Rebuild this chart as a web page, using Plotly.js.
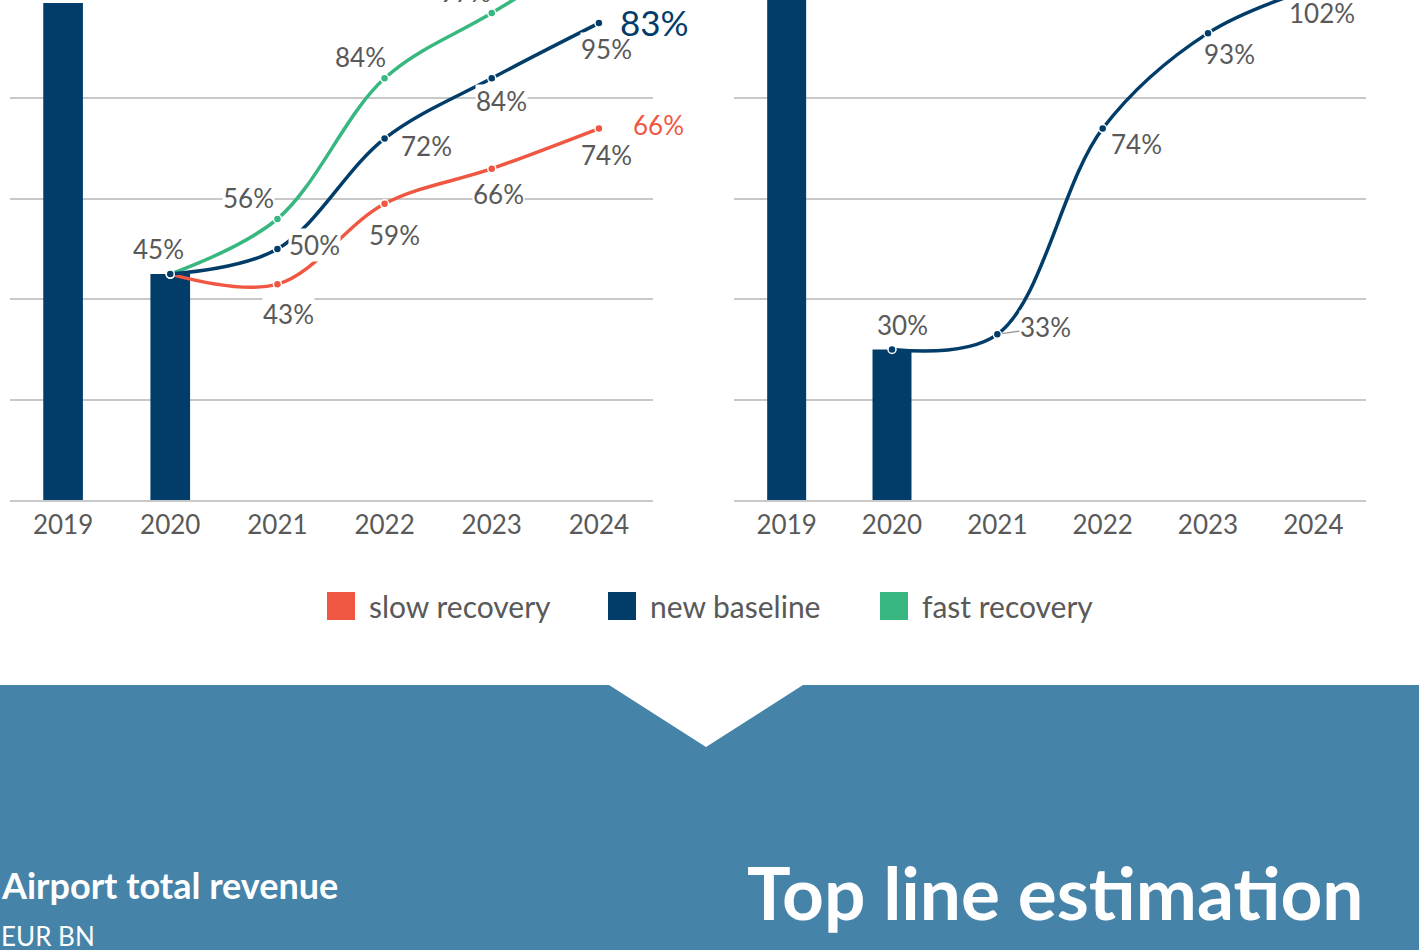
<!DOCTYPE html>
<html>
<head>
<meta charset="utf-8">
<script src="https://cdn.plot.ly/plotly-3.0.1.min.js"></script>
<style>
  html, body { margin: 0; padding: 0; width: 1419px; height: 950px; overflow: hidden; background: #ffffff; }
  #chart { position: absolute; left: 0; top: -100px; width: 1419px; height: 1050px; }
</style>
</head>
<body>
<div id="chart"></div>
<script>
// ---------------- DATA ----------------
const years = ['2019', '2020', '2021', '2022', '2023', '2024'];
const barYears = ['2019', '2020'];
const lineYears = ['2020', '2021', '2022', '2023', '2024'];

// left panel (% of 2019)
const leftBars = [99, 45];
const slowRecovery = [45, 43, 59, 66, 74];
const newBaseline = [45, 50, 72, 84, 95];
const fastRecovery = [45, 56, 84, 97, 110];
const slowEndLabel = '66%';
const baselineEndLabel = '83%';

// right panel (% of 2019)
const rightBars = [100, 30];
const rightLine = [30, 33, 74, 93, 102];

// legend / text
const seriesNames = ['slow recovery', 'new baseline', 'fast recovery'];
const sectionTitle = 'Airport total revenue';
const sectionUnit = 'EUR BN';
const bigTitle = 'Top line estimation';

// ---------------- STYLE ----------------
const RED = '#EF5742';
const NAVY = '#023D69';
const GREEN = '#38B880';
const GRID = '#C8C8C8';
const LABEL = '#595959';
const BANNER = '#4683A8';
const FONT = 'Lato, "Source Sans Pro", "Open Sans", sans-serif';

const H = 1050, W = 1419, SHIFT = 100;
const px = x => x / W;
const py = y => (H - (y + SHIFT)) / H;
const cat = y => years.indexOf(y); // category position on the x axes

// label offsets (pixels, dx right, dy down) for points 2021..2024
const slowOff = [[11, 30], [10, 31], [7, 25], [8, 26]];
const baseOff = [[37, -4], [42, 7], [10, 23], [8, 26]];
const fastOff = [[-29, -21], [-24, -21], [-26, -21], [-26, -21]];
const rightOff = [[10, -24], [48, -7], [34, 15], [21, 21], [9, 25]];
const leftStartOff = [-12, -25];

function lineTrace(xa, ya, y, color) {
  return {
    type: 'scatter', mode: 'lines+markers', x: lineYears, y: y,
    xaxis: xa, yaxis: ya,
    line: { color: color, width: 3.5, shape: 'spline', smoothing: 1 },
    marker: { color: color, size: 8, line: { color: '#ffffff', width: 1.5 } },
    cliponaxis: true, hoverinfo: 'skip'
  };
}
function barTrace(xa, ya, y) {
  return {
    type: 'bar', x: barYears, y: y, xaxis: xa, yaxis: ya,
    marker: { color: NAVY }, width: 0.37, hoverinfo: 'skip'
  };
}

const traces = [
  barTrace('x', 'y', leftBars),
  lineTrace('x', 'y', slowRecovery, RED),
  lineTrace('x', 'y', fastRecovery, GREEN),
  lineTrace('x', 'y', newBaseline, NAVY),
  barTrace('x2', 'y2', rightBars),
  lineTrace('x2', 'y2', rightLine, NAVY)
];

const annotations = [];
function lbl(xr, yr, year, y, text, dx, dy, extra) {
  annotations.push(Object.assign({
    xref: xr, yref: yr, x: cat(year), y: y, text: text, showarrow: false,
    xshift: dx, yshift: -dy, xanchor: 'center', yanchor: 'middle',
    font: { family: FONT, size: 26, color: LABEL },
    bgcolor: '#ffffff', borderpad: 0
  }, extra || {}));
}
// left start label
lbl('x', 'y', lineYears[0], newBaseline[0], newBaseline[0] + '%', leftStartOff[0], leftStartOff[1]);
for (let i = 1; i < lineYears.length; i++) {
  lbl('x', 'y', lineYears[i], slowRecovery[i], slowRecovery[i] + '%', slowOff[i - 1][0], slowOff[i - 1][1]);
  lbl('x', 'y', lineYears[i], newBaseline[i], newBaseline[i] + '%', baseOff[i - 1][0], baseOff[i - 1][1]);
  if (i < lineYears.length - 1) {
    lbl('x', 'y', lineYears[i], fastRecovery[i], fastRecovery[i] + '%', fastOff[i - 1][0], fastOff[i - 1][1]);
  }
}
// end labels
const last = lineYears.length - 1;
lbl('x', 'y', lineYears[last], newBaseline[last], baselineEndLabel, 56, -1,
  { bgcolor: 'rgba(0,0,0,0)', font: { family: FONT, size: 35, color: NAVY } });
lbl('x', 'y', lineYears[last], slowRecovery[last], slowEndLabel, 60, -4,
  { bgcolor: 'rgba(0,0,0,0)', font: { family: FONT, size: 26, color: RED } });
// right labels
for (let i = 0; i < lineYears.length; i++) {
  if (i === 1) {
    annotations.push({
      xref: 'x2', yref: 'y2', x: cat(lineYears[i]), y: rightLine[i], text: rightLine[i] + '%',
      showarrow: true, ax: rightOff[i][0], ay: rightOff[i][1], arrowhead: 0,
      arrowcolor: '#9a9a9a', arrowwidth: 1.5, standoff: 5,
      font: { family: FONT, size: 26, color: LABEL }, bgcolor: '#ffffff', borderpad: 0
    });
  } else {
    lbl('x2', 'y2', lineYears[i], rightLine[i], rightLine[i] + '%', rightOff[i][0], rightOff[i][1]);
  }
}

// legend (manual)
const legendColors = [RED, NAVY, GREEN];
const legendSquareX = [327, 608, 880];
const shapes = [];
seriesNames.forEach((name, i) => {
  shapes.push({
    type: 'rect', xref: 'paper', yref: 'paper',
    x0: px(legendSquareX[i]), x1: px(legendSquareX[i] + 28),
    y0: py(620), y1: py(592), fillcolor: legendColors[i], line: { width: 0 }
  });
  annotations.push({
    xref: 'paper', yref: 'paper', x: px(legendSquareX[i] + 40), y: py(606),
    xanchor: 'left', yanchor: 'middle', showarrow: false, text: name,
    font: { family: FONT, size: 30, color: LABEL }
  });
});

// banner with notch
shapes.push({
  type: 'path', xref: 'paper', yref: 'paper',
  path: `M 0 ${py(685)} L ${px(609)} ${py(685)} L ${px(706)} ${py(747)} L ${px(803)} ${py(685)} L 1 ${py(685)} L 1 0 L 0 0 Z`,
  fillcolor: BANNER, line: { width: 0 }, layer: 'below'
});
annotations.push({
  xref: 'paper', yref: 'paper', x: px(-1), y: py(885), xanchor: 'left', yanchor: 'middle',
  showarrow: false, text: '<b>' + sectionTitle + '</b>',
  font: { family: FONT, size: 36, color: '#ffffff' }
});
annotations.push({
  xref: 'paper', yref: 'paper', x: px(-1), y: py(936), xanchor: 'left', yanchor: 'middle',
  showarrow: false, text: sectionUnit,
  font: { family: FONT, size: 26, color: '#ffffff' }
});
annotations.push({
  xref: 'paper', yref: 'paper', x: px(1366), y: py(892), xanchor: 'right', yanchor: 'middle',
  showarrow: false, text: '<b>' + bigTitle + '</b>',
  font: { family: FONT, size: 73, color: '#ffffff' }
});

const yTop = 600 / 5.02;
function xAxis(dom) {
  return {
    domain: dom, type: 'category', categoryorder: 'array', categoryarray: years,
    range: [-0.5, 5.5], showgrid: false, zeroline: false,
    showline: true, linecolor: GRID, linewidth: 2,
    ticks: 'outside', ticklen: 1, tickcolor: 'rgba(0,0,0,0)',
    tickfont: { family: FONT, size: 26, color: LABEL }, fixedrange: true
  };
}
function yAxis(anchor) {
  return {
    domain: [py(500), 1], range: [0, yTop], anchor: anchor,
    dtick: 20, tick0: 0, showgrid: true, gridcolor: GRID, gridwidth: 2,
    zeroline: false, showticklabels: false, ticks: '', fixedrange: true
  };
}

const layout = {
  width: W, height: H, margin: { l: 0, r: 0, t: 0, b: 0 },
  paper_bgcolor: '#ffffff', plot_bgcolor: 'rgba(0,0,0,0)', showlegend: false,
  xaxis: Object.assign(xAxis([px(9.5), px(652.5)]), { anchor: 'y' }),
  yaxis: yAxis('x'),
  xaxis2: Object.assign(xAxis([px(734), px(1366)]), { anchor: 'y2' }),
  yaxis2: yAxis('x2'),
  shapes: shapes, annotations: annotations,
  font: { family: FONT }
};

Plotly.newPlot('chart', traces, layout, { staticPlot: true, displayModeBar: false });
</script>
</body>
</html>
